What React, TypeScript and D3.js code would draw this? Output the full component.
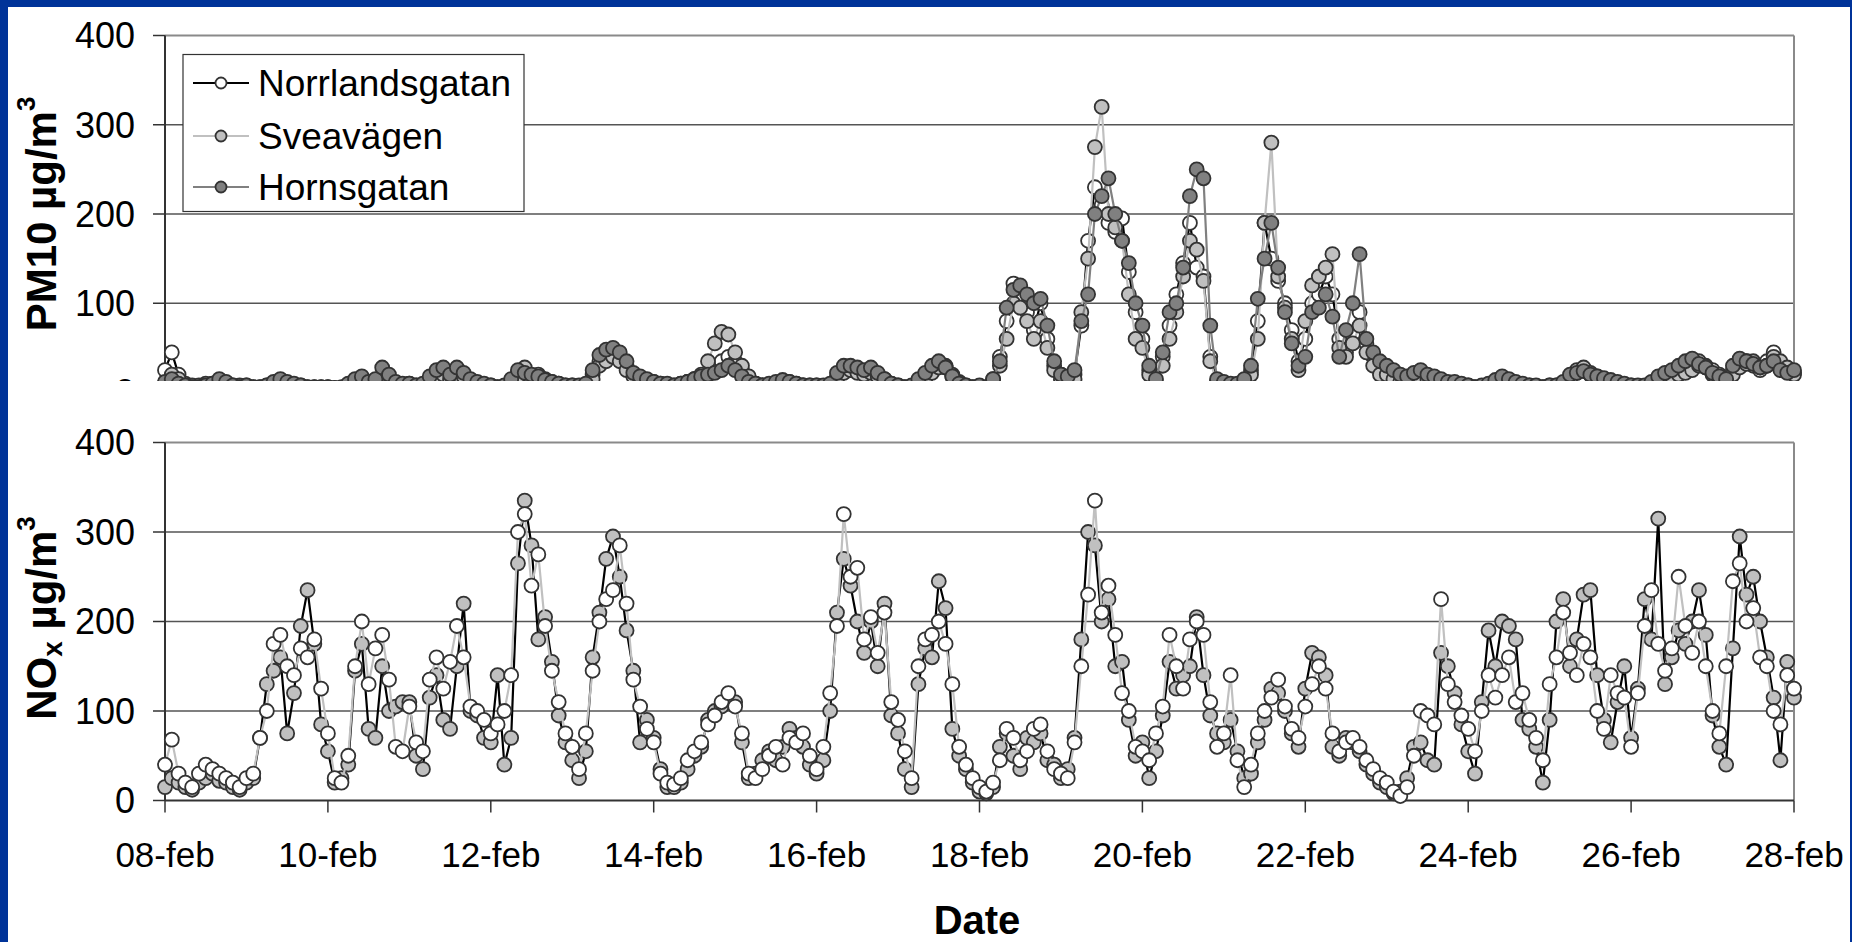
import React, { useEffect } from "react";
import * as d3 from "d3";

// ---------- DATA (2-hourly values, 08-feb 00:00 .. 28-feb 00:00) ----------
const startLabel = "08-feb";
const pointsPerDay = 12;
const dayCount = 20;
const xTickDays = [0, 2, 4, 6, 8, 10, 12, 14, 16, 18, 20];
const xTickLabels = ["08-feb", "10-feb", "12-feb", "14-feb", "16-feb", "18-feb", "20-feb", "22-feb", "24-feb", "26-feb", "28-feb"];
const yTicks = [0, 100, 200, 300, 400];
const legendNames = ["Norrlandsgatan", "Sveavägen", "Hornsgatan"];

const pm10Norrlandsgatan = [
  25, 45, 20, 10, 8, 8, 10, 10, 12, 10, 8, 8,
  8, 6, 6, 8, 10, 12, 10, 8, 8, 6, 6, 6,
  6, 5, 5, 8, 12, 15, 10, 12, 15, 12, 8, 8,
  10, 8, 8, 15, 20, 22, 18, 25, 20, 12, 10, 8,
  8, 6, 6, 12, 22, 25, 18, 20, 15, 12, 10, 8,
  8, 6, 8, 20, 35, 40, 45, 38, 30, 20, 15, 12,
  12, 10, 8, 8, 10, 12, 15, 18, 20, 25, 35, 40,
  35, 25, 15, 10, 8, 8, 10, 12, 12, 10, 8, 8,
  8, 6, 8, 18, 25, 28, 25, 22, 25, 20, 15, 10,
  8, 6, 6, 12, 18, 25, 30, 28, 20, 12, 8, 6,
  6, 5, 15, 40, 80, 122, 110, 90, 70, 100, 60, 30,
  20, 15, 20, 75, 170, 230, 210, 190, 180, 195, 135, 90,
  60, 25, 10, 40, 75, 110, 145, 190, 140, 130, 40, 12,
  10, 8, 8, 12, 25, 80, 190, 150, 125, 100, 70, 35,
  60, 100, 110, 130, 110, 60, 45, 65, 90, 55, 40, 30,
  25, 20, 15, 15, 18, 20, 18, 15, 12, 10, 10, 8,
  8, 6, 6, 8, 10, 12, 10, 10, 8, 8, 6, 6,
  8, 8, 10, 18, 22, 25, 20, 18, 15, 12, 10, 8,
  8, 6, 6, 10, 15, 18, 20, 25, 28, 30, 35, 30,
  25, 20, 15, 25, 30, 35, 30, 25, 35, 45, 30, 25,
  22,
];

const pm10Sveavagen = [
  10, 20, 15, 8, 6, 6, 8, 8, 10, 8, 6, 6,
  6, 5, 5, 6, 8, 10, 8, 6, 6, 5, 5, 5,
  5, 5, 5, 6, 10, 12, 10, 10, 14, 10, 8, 6,
  8, 6, 6, 12, 18, 20, 15, 20, 18, 10, 8, 6,
  6, 5, 5, 10, 18, 28, 15, 15, 12, 10, 8, 6,
  6, 5, 6, 15, 30, 35, 40, 35, 25, 18, 12, 10,
  10, 8, 6, 6, 8, 12, 15, 20, 35, 55, 68, 65,
  45, 30, 18, 10, 8, 8, 10, 10, 10, 8, 8, 6,
  6, 5, 6, 15, 22, 25, 22, 20, 22, 18, 12, 8,
  6, 5, 5, 10, 15, 22, 28, 30, 18, 10, 6, 5,
  5, 5, 10, 30, 60, 100, 95, 80, 60, 80, 50, 25,
  15, 12, 15, 90, 150, 275, 320, 200, 185, 170, 110, 60,
  50, 20, 8, 30, 60, 90, 130, 170, 160, 125, 35, 10,
  8, 6, 6, 10, 20, 60, 190, 280, 130, 95, 60, 25,
  80, 120, 130, 140, 155, 50, 40, 55, 75, 45, 30, 20,
  20, 15, 12, 12, 15, 15, 15, 12, 10, 8, 8, 6,
  6, 5, 5, 6, 8, 10, 8, 8, 6, 6, 5, 5,
  6, 6, 8, 15, 25, 28, 22, 15, 12, 10, 8, 6,
  6, 5, 5, 8, 12, 15, 18, 20, 22, 25, 30, 28,
  20, 15, 12, 20, 28, 32, 35, 28, 30, 40, 35, 28,
  20,
];

const pm10Hornsgatan = [
  12, 15, 10, 8, 6, 6, 8, 10, 15, 12, 8, 6,
  8, 6, 6, 8, 12, 15, 12, 10, 8, 6, 6, 6,
  6, 5, 6, 10, 15, 18, 12, 15, 28, 20, 12, 10,
  10, 8, 10, 18, 25, 28, 20, 28, 22, 15, 12, 10,
  8, 6, 8, 15, 25, 22, 20, 18, 14, 12, 10, 8,
  8, 8, 10, 25, 42, 48, 50, 45, 35, 22, 18, 15,
  12, 10, 10, 8, 10, 12, 15, 18, 20, 22, 25, 30,
  25, 18, 12, 10, 8, 10, 12, 14, 12, 10, 8, 8,
  8, 8, 10, 22, 30, 30, 28, 25, 28, 22, 15, 10,
  8, 6, 8, 15, 22, 30, 35, 28, 18, 10, 8, 6,
  8, 6, 15, 35, 95, 115, 120, 110, 100, 105, 75, 35,
  20, 18, 25, 80, 110, 200, 220, 240, 200, 170, 145, 100,
  75, 30, 15, 45, 90, 100, 140, 220, 250, 240, 75, 15,
  12, 10, 10, 15, 30, 105, 150, 190, 140, 90, 55, 30,
  40, 90, 95, 110, 85, 40, 70, 100, 155, 60, 45, 35,
  30, 25, 20, 18, 22, 25, 20, 18, 15, 12, 12, 10,
  8, 6, 8, 10, 14, 18, 15, 12, 10, 8, 8, 6,
  8, 8, 12, 20, 22, 24, 20, 18, 16, 14, 12, 10,
  8, 8, 8, 12, 18, 22, 25, 30, 35, 38, 32, 28,
  22, 18, 15, 30, 38, 35, 32, 28, 30, 35, 25, 22,
  25,
];

// NOx: series drawn with grey markers and black line
const noxNorrlandsgatan = [
  15, 25, 20, 15, 12, 20, 25, 30, 22, 20, 15, 12,
  20, 25, 70, 130, 145, 160, 75, 120, 195, 235, 175, 85,
  55, 20, 25, 40, 145, 175, 80, 70, 150, 100, 105, 110,
  110, 50, 35, 115, 140, 90, 80, 150, 220, 100, 95, 70,
  65, 140, 40, 70, 265, 335, 285, 180, 205, 155, 95, 65,
  45, 25, 55, 160, 210, 270, 295, 250, 190, 145, 65, 90,
  70, 35, 15, 15, 20, 35, 50, 60, 90, 100, 105, 115,
  110, 65, 25, 30, 45, 55, 45, 60, 80, 70, 60, 40,
  30, 45, 100, 210, 270, 240, 200, 165, 200, 150, 220, 95,
  75, 35, 15, 130, 170, 160, 245, 215, 80, 50, 35, 20,
  10, 8, 15, 60, 75, 50, 35, 70, 65, 75, 45, 40,
  25, 35, 70, 180, 300, 285, 200, 225, 150, 155, 90, 50,
  65, 25, 55, 95, 155, 125, 140, 150, 205, 140, 95, 75,
  65, 90, 55, 25, 30, 65, 90, 125, 120, 100, 75, 60,
  125, 165, 160, 140, 60, 50, 70, 65, 55, 40, 30, 20,
  15, 8, 10, 25, 60, 65, 45, 40, 165, 150, 120, 85,
  55, 30, 110, 190, 150, 200, 195, 180, 90, 80, 60, 20,
  90, 200, 225, 150, 180, 230, 235, 140, 90, 65, 110, 150,
  70, 125, 225, 180, 315, 130, 160, 190, 175, 200, 235, 185,
  95, 60, 40, 170, 295, 230, 250, 200, 160, 115, 45, 155,
  115,
];

// NOx: series drawn with white markers and light grey line
const noxSveavagen = [
  40, 68, 30, 20, 15, 30, 40, 35, 30, 25, 20, 15,
  25, 30, 70, 100, 175, 185, 150, 140, 170, 160, 180, 125,
  75, 25, 20, 50, 150, 200, 130, 170, 185, 135, 60, 55,
  105, 65, 55, 135, 160, 125, 155, 195, 160, 105, 100, 90,
  75, 85, 100, 140, 300, 320, 240, 275, 195, 145, 110, 75,
  60, 35, 75, 145, 200, 225, 235, 285, 220, 135, 105, 80,
  65, 30, 20, 18, 25, 45, 55, 65, 85, 95, 110, 120,
  105, 75, 30, 25, 35, 50, 60, 40, 70, 65, 75, 50,
  35, 60, 120, 195, 320, 250, 260, 180, 205, 165, 210, 110,
  90, 55, 25, 150, 180, 185, 200, 175, 130, 60, 40, 25,
  15, 10, 20, 45, 80, 70, 45, 55, 80, 85, 55, 35,
  30, 25, 65, 150, 230, 335, 210, 240, 185, 120, 100, 60,
  55, 45, 75, 105, 185, 150, 125, 180, 200, 185, 110, 60,
  75, 140, 45, 15, 40, 75, 100, 115, 135, 105, 80, 70,
  105, 130, 150, 125, 75, 55, 65, 70, 60, 45, 35, 25,
  20, 10, 5, 15, 50, 100, 95, 85, 225, 130, 110, 95,
  80, 55, 100, 140, 115, 140, 160, 110, 120, 90, 70, 45,
  130, 160, 210, 165, 140, 175, 160, 100, 80, 140, 120, 115,
  60, 120, 195, 235, 175, 145, 170, 250, 195, 165, 200, 150,
  100, 75, 150, 245, 265, 200, 215, 160, 150, 100, 85, 140,
  125,
];

// ---------- LAYOUT / STYLE ----------
const W = 1852;
const H = 942;
const FONT = "'Liberation Sans', Arial, Helvetica, sans-serif";
const BLUE = "#003399";
const MARKER_STROKE = "#333333";

type SeriesDef = { values: number[]; fill: string; line: string };

const x = d3.scaleLinear().domain([0, dayCount]).range([165, 1794]);
const yTop = d3.scaleLinear().domain([0, 400]).range([392.5, 35.5]);
const yBot = d3.scaleLinear().domain([0, 400]).range([800.5, 442.5]);

const pmSeries: SeriesDef[] = [
  { values: pm10Norrlandsgatan, fill: "#ffffff", line: "#000000" },
  { values: pm10Sveavagen, fill: "#c0c0c0", line: "#c0c0c0" },
  { values: pm10Hornsgatan, fill: "#808080", line: "#808080" },
];
const noxSeries: SeriesDef[] = [
  { values: noxNorrlandsgatan, fill: "#c0c0c0", line: "#000000" },
  { values: noxSveavagen, fill: "#ffffff", line: "#c0c0c0" },
];

function Plot({ y, series, showXLabels }: { y: d3.ScaleLinear<number, number>; series: SeriesDef[]; showXLabels: boolean }) {
  const [x0, x1] = x.range();
  const y0 = y(0);
  const yMax = y(400);
  return (
    <g>
      {yTicks.slice(1, -1).map((t) => (
        <line key={"g" + t} x1={x0} x2={x1} y1={y(t)} y2={y(t)} stroke="#555" strokeWidth={1.3} />
      ))}
      <line x1={x0} x2={x1} y1={yMax} y2={yMax} stroke="#8a8a8a" strokeWidth={2} />
      <line x1={x1} x2={x1} y1={yMax} y2={y0} stroke="#8a8a8a" strokeWidth={2} />
      {yTicks.map((t) => (
        <g key={"t" + t}>
          <line x1={x0 - 12} x2={x0} y1={y(t)} y2={y(t)} stroke="#333" strokeWidth={1.5} />
          <text x={135} y={y(t)} dy="0.36em" textAnchor="end" fontFamily={FONT} fontSize={36} fill="#000">
            {t}
          </text>
        </g>
      ))}
      {xTickDays.map((d, i) => (
        <g key={"x" + d}>
          <line x1={x(d)} x2={x(d)} y1={y0} y2={y0 + 12} stroke="#333" strokeWidth={1.5} />
          {showXLabels && (
            <text x={x(d)} y={867} textAnchor="middle" fontFamily={FONT} fontSize={35} fill="#000">
              {xTickLabels[i]}
            </text>
          )}
        </g>
      ))}
      <line x1={x0} x2={x0} y1={yMax} y2={y0} stroke="#333" strokeWidth={2} />
      <line x1={x0} x2={x1} y1={y0} y2={y0} stroke="#333" strokeWidth={2} />
      {series.map((s, si) => {
        const line = d3
          .line<number>()
          .x((_, i) => x(i / pointsPerDay))
          .y((v) => y(v));
        return (
          <g key={"s" + si}>
            <path d={line(s.values) || ""} fill="none" stroke={s.line} strokeWidth={2.2} />
            {s.values.map((v, i) => (
              <circle key={i} cx={x(i / pointsPerDay)} cy={y(v)} r={7} fill={s.fill} stroke={MARKER_STROKE} strokeWidth={1.8} />
            ))}
          </g>
        );
      })}
    </g>
  );
}

export default function App() {
  useEffect(() => {
    document.body.style.margin = "0";
    document.body.style.overflow = "hidden";
  }, []);

  const legendRows = [83, 136, 187];

  return (
    <svg width={W} height={H} style={{ position: "fixed", left: 0, top: 0 }} data-start={startLabel}>
      <defs>
        <clipPath id="topClip">
          <rect x={0} y={0} width={W} height={381} />
        </clipPath>
      </defs>
      <rect x={0} y={0} width={W} height={H} fill={BLUE} />
      <rect x={8} y={7} width={1842} height={H - 7} fill="#ffffff" />

      {/* Top chart: PM10 */}
      <g clipPath="url(#topClip)">
        <Plot y={yTop} series={pmSeries} showXLabels={false} />
      </g>
      <text transform={`translate(56, 214) rotate(-90)`} textAnchor="middle" fontFamily={FONT} fontWeight="bold" fontSize={42} fill="#000">
        PM10 µg/m<tspan dy={-21} fontSize={26}>3</tspan>
      </text>

      {/* Legend */}
      <rect x={183} y={54.5} width={341} height={157} fill="#fff" stroke="#333" strokeWidth={1.2} />
      {legendNames.map((name, i) => (
        <g key={name}>
          <line x1={193} x2={249} y1={legendRows[i]} y2={legendRows[i]} stroke={pmSeries[i].line} strokeWidth={2.2} />
          <circle cx={221} cy={legendRows[i]} r={5.5} fill={pmSeries[i].fill} stroke={MARKER_STROKE} strokeWidth={1.8} />
          <text x={258} y={legendRows[i]} dy="0.36em" fontFamily={FONT} fontSize={37} fill="#000">
            {name}
          </text>
        </g>
      ))}

      {/* Bottom chart: NOx */}
      <Plot y={yBot} series={noxSeries} showXLabels={true} />
      <text transform={`translate(56, 618) rotate(-90)`} textAnchor="middle" fontFamily={FONT} fontWeight="bold" fontSize={42} fill="#000">
        NO<tspan dy={6} fontSize={28}>x</tspan>
        <tspan dy={-6}> µg/m</tspan>
        <tspan dy={-21} fontSize={26}>3</tspan>
      </text>

      <text x={977} y={934} textAnchor="middle" fontFamily={FONT} fontWeight="bold" fontSize={40} fill="#000">
        Date
      </text>
    </svg>
  );
}
